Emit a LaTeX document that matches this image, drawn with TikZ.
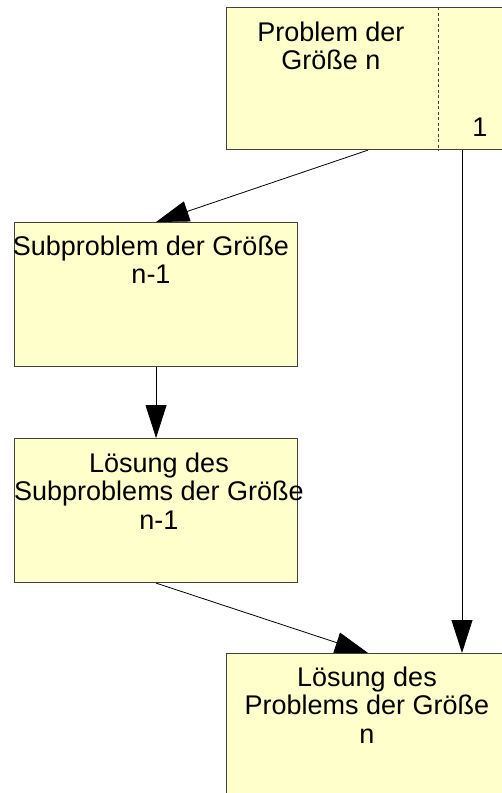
\documentclass[tikz,border=0pt]{standalone}
\usepackage{fontspec}
\setmainfont{Liberation Sans}
\usetikzlibrary{arrows.meta,backgrounds}
\definecolor{boxfill}{HTML}{FFFFCC}
\definecolor{boxline}{HTML}{404040}
\tikzset{
  box/.style={draw=boxline, fill=boxfill, line width=1.1pt, minimum width=283pt,
    minimum height=144pt, inner sep=0pt, anchor=north west},
  caption/.style={anchor=north, inner sep=0pt, align=center,
    font=\fontsize{27}{28.7}\selectfont},
  link/.style={line width=0.8pt, -{Triangle[length=33pt,width=21pt]}},
}
\begin{document}
\begin{tikzpicture}[x=1pt,y=-1pt]
\useasboundingbox (0,0) rectangle (501,793);

% boxes
\node[box, minimum height=142pt] (top) at (226,7) {};
\node[box] (sub) at (14,222) {};
\node[box] (sol) at (14,438) {};
\node[box] (bot) at (226,653) {};

% divider in the top box and the size label
\draw[boxline, line width=0.8pt, dash pattern=on 3pt off 2.5pt]
  ([xshift=212pt]top.north west) -- ([xshift=212pt]top.south west);
\node[font=\fontsize{27}{28.7}\selectfont, anchor=base, inner sep=0pt] (one) at (480,136) {1};

% captions
\node[caption] (toptext) at (331,17) {\rule{0pt}{24pt}Problem der\\Größe n};
\node[caption] (subtext) at (151,231) {\rule{0pt}{24pt}Subproblem der Größe\\n-1};
\node[caption] (soltext) at (159,448) {\rule{0pt}{24pt}Lösung des\\Subproblems der Größe\\n-1};
\node[caption] (bottext) at (367,662) {\rule{0pt}{24pt}Lösung des\\Problems der Größe\\n};

% connectors, drawn underneath the boxes
\coordinate (rtop) at ([xshift=236pt]top.south west);
\coordinate (rbot) at ([xshift=236pt]bot.north west);
\begin{scope}[on background layer]
  \fill[white] (0,0) rectangle (501,793);
  \draw[link] (top.south) -- (sub.north);
  \draw[link] (sub.south) -- (sol.north);
  \draw[link] (sol.south) -- (bot.north);
  \draw[link] (rtop) -- (rbot);
\end{scope}
\end{tikzpicture}
\end{document}
